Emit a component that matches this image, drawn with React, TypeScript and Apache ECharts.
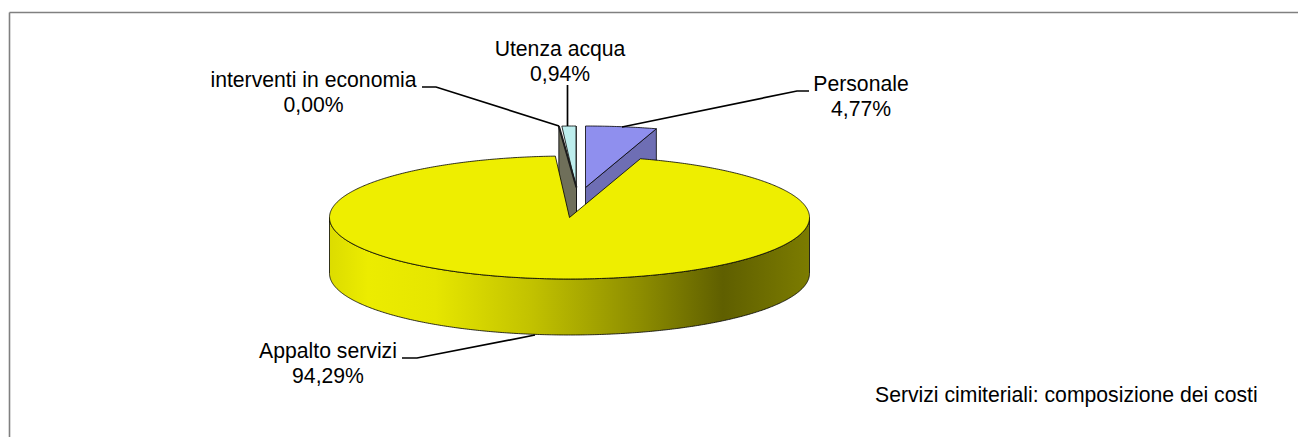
import React, { useEffect, useRef } from "react";
import * as echarts from "echarts";

const categories = ["Personale", "Appalto servizi", "interventi in economia", "Utenza acqua"];
const shares = [4.77, 94.29, 0.0, 0.94];
const shareLabels = ["4,77%", "94,29%", "0,00%", "0,94%"];
const chartNote = "Servizi cimiteriali: composizione dei costi";

const CX = 569.5, CY = 217.5, RX = 240, RY = 61.5, DEPTH = 56;
const FONT = '21.2px "Liberation Sans", Arial, sans-serif';
const drawOrder = [0, 3, 2, 1];
const offsets = [[16, -30], [0, 0], [3.5, -30], [6.5, -30]];
const topFill = ["#8F8FEE", "#EEEE00", "#6F6F5A", "#BDEEEE"];
const sideFill = ["#6E6EB4", "#EEEE00", "#6F6F5A", "#6F9F9F"];
const labelPos = [[861, 70.5], [328, 338], [313.5, 66.5], [560, 36]];
const leaders = [
  [[622, 127], [797, 91], [809, 91]],
  [[535, 335], [417, 358], [402, 358]],
  [[559, 126], [436, 87], [422, 87]],
  [[567.5, 126], [567.5, 85]],
];

const total = shares.reduce((a, b) => a + b, 0);
const starts: number[] = [];
shares.reduce((acc, v, i) => {
  starts[i] = (acc / total) * Math.PI * 2;
  return acc + v;
}, 0);

function pt(a: number, ox: number, oy: number, dy = 0): number[] {
  return [CX + ox + RX * Math.sin(a), CY + oy - RY * Math.cos(a) + dy];
}
function arc(a0: number, a1: number, ox: number, oy: number, dy = 0): number[][] {
  const n = Math.max(2, Math.ceil(Math.abs(a1 - a0) / 0.01));
  const out: number[][] = [];
  for (let k = 0; k <= n; k++) out.push(pt(a0 + ((a1 - a0) * k) / n, ox, oy, dy));
  return out;
}

function renderItem(_: any, api: any) {
  const i = api.value(0) as number;
  const a0 = starts[i];
  const a1 = a0 + (api.value(1) / total) * Math.PI * 2;
  const [ox, oy] = offsets[i];
  const apex = [CX + ox, CY + oy];
  const line = { stroke: "#000", lineWidth: 0.8 };
  const children: any[] = [];

  if (i === 2) {
    // a 0% slice shows only its cut wall, seen from the front
    const rim = pt(a0, ox, oy);
    const apexR = [apex[0] + 3.5, apex[1]];
    children.push({
      type: "polygon",
      shape: { points: [rim, apexR, [apexR[0], apexR[1] + DEPTH], [rim[0], rim[1] + DEPTH]] },
      style: { fill: topFill[i], ...line },
    });
    children.push({
      type: "line",
      shape: { x1: rim[0], y1: rim[1], x2: apexR[0], y2: apexR[1] },
      style: { stroke: "#1c1c1c", lineWidth: 2 },
    });
  } else if (i === 1) {
    const side = new echarts.graphic.LinearGradient(0, 0, 1, 0, [
      { offset: 0, color: "#DCDC00" },
      { offset: 0.08, color: "#ECEC00" },
      { offset: 0.22, color: "#E6E600" },
      { offset: 0.42, color: "#C2C200" },
      { offset: 0.65, color: "#8C8C00" },
      { offset: 0.82, color: "#5F5F00" },
      { offset: 1, color: "#7C7C00" },
    ]);
    const front = arc(Math.PI / 2, (Math.PI * 3) / 2, 0, 0);
    const back = arc((Math.PI * 3) / 2, Math.PI / 2, 0, 0, DEPTH);
    children.push({
      type: "polygon",
      shape: { points: [...front, ...back] },
      style: { fill: side, ...line },
    });
    children.push({
      type: "polygon",
      shape: { points: [apex, ...arc(a0, a1, 0, 0)] },
      style: { fill: topFill[i], ...line },
    });
  } else {
    // wall on the clockwise end of the wedge, then its top
    const e0 = pt(a1, ox, oy);
    children.push({
      type: "polygon",
      shape: { points: [apex, e0, [e0[0], e0[1] + DEPTH], [apex[0], apex[1] + DEPTH]] },
      style: { fill: sideFill[i], ...line },
    });
    children.push({
      type: "polygon",
      shape: { points: [apex, ...arc(a0, a1, ox, oy)] },
      style: { fill: topFill[i], ...line },
    });
  }

  children.push({
    type: "polyline",
    shape: { points: leaders[i] },
    style: { stroke: "#000", lineWidth: 1.7, fill: "none" },
    z2: 20,
  });
  children.push({
    type: "text",
    x: labelPos[i][0],
    y: labelPos[i][1],
    style: {
      text: `${categories[i]}\n${shareLabels[i]}`,
      font: FONT,
      fill: "#000",
      align: "center",
      lineHeight: 25,
    },
    z2: 21,
  });
  return { type: "group", children };
}

export default function App() {
  const ref = useRef<HTMLDivElement>(null);
  useEffect(() => {
    document.body.style.margin = "0";
    const chart = echarts.init(ref.current!, null, { renderer: "svg" });
    chart.setOption({
      animation: false,
      backgroundColor: "#fff",
      graphic: [
        { type: "line", shape: { x1: 9.5, y1: 12.5, x2: 1298, y2: 12.5 }, style: { stroke: "#808080", lineWidth: 1.6 } },
        { type: "line", shape: { x1: 9.5, y1: 12.5, x2: 9.5, y2: 437 }, style: { stroke: "#808080", lineWidth: 1.6 } },
        { type: "text", x: 875, y: 394, style: { text: chartNote, font: FONT, fill: "#000", verticalAlign: "middle" } },
      ],
      series: [
        {
          type: "custom",
          coordinateSystem: "none",
          renderItem,
          silent: true,
          data: drawOrder.map((i) => ({ name: categories[i], value: [i, shares[i]] })),
        },
      ],
    });
    return () => chart.dispose();
  }, []);
  return <div ref={ref} style={{ width: 1298, height: 437 }} />;
}
